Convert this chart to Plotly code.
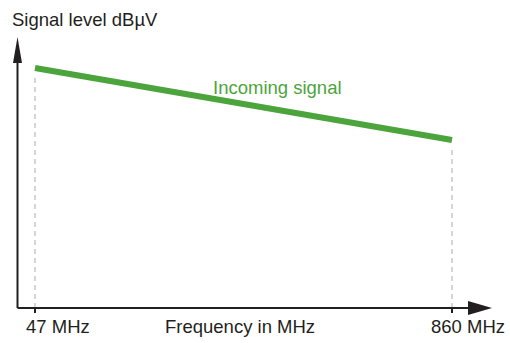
import plotly.graph_objects as go

# ---- data ----
freq_mhz = [47, 860]            # band edges
signal_level = [80, 56]         # relative signal level (dBµV, arbitrary scale)
series_name = "Incoming signal"
x_title = "Frequency in MHz"
y_title = "Signal level dBµV"
tick_labels = ["47 MHz", "860 MHz"]

W, H = 510, 343
GREEN = "#4CA53C"
INK = "#231F20"
GREY = "#C8C8C8"
FONT = "Liberation Sans, Arial, sans-serif"
FS = 18.5

def px(x):
    return x / W

def py(y):
    return 1 - y / H

fig = go.Figure()

# dashed guide lines at band edges
for f, lv in zip(freq_mhz, signal_level):
    fig.add_trace(go.Scatter(x=[f, f], y=[0, lv - 3], mode="lines",
                             line=dict(color=GREY, width=1.5, dash="5px,4px"),
                             hoverinfo="skip", showlegend=False))

# signal line
fig.add_trace(go.Scatter(x=freq_mhz, y=signal_level, mode="lines",
                         line=dict(color=GREEN, width=6), name=series_name,
                         showlegend=False))

shapes = []
# axes lines
shapes.append(dict(type="line", xref="paper", yref="paper",
                   x0=px(17.5), y0=py(308), x1=px(17.5), y1=py(60),
                   line=dict(color=INK, width=2)))
shapes.append(dict(type="line", xref="paper", yref="paper",
                   x0=px(17.5), y0=py(308), x1=px(470), y1=py(308),
                   line=dict(color=INK, width=2)))
# arrow heads
shapes.append(dict(type="path", xref="paper", yref="paper",
                   path=f"M {px(13)},{py(63)} L {px(17.5)},{py(37)} L {px(22)},{py(63)} Z",
                   fillcolor=INK, line=dict(color=INK, width=0)))
shapes.append(dict(type="path", xref="paper", yref="paper",
                   path=f"M {px(468)},{py(301)} L {px(492)},{py(308)} L {px(468)},{py(315)} Z",
                   fillcolor=INK, line=dict(color=INK, width=0)))
# tick marks at band edges
for f in freq_mhz:
    shapes.append(dict(type="line", xref="x", yref="paper",
                       x0=f, x1=f, y0=py(308), y1=py(313),
                       line=dict(color=INK, width=2)))

annotations = [
    dict(text=y_title, x=px(10), y=py(20), xref="paper", yref="paper",
         xanchor="left", yanchor="middle", showarrow=False,
         font=dict(family=FONT, size=FS, color=INK)),
    dict(text=series_name, x=px(211), y=py(87), xref="paper", yref="paper",
         xanchor="left", yanchor="middle", showarrow=False,
         font=dict(family=FONT, size=FS, color=GREEN)),
    dict(text=tick_labels[0], x=px(24), y=py(326), xref="paper", yref="paper",
         xanchor="left", yanchor="middle", showarrow=False,
         font=dict(family=FONT, size=FS, color=INK)),
    dict(text=x_title, x=px(163), y=py(326), xref="paper", yref="paper",
         xanchor="left", yanchor="middle", showarrow=False,
         font=dict(family=FONT, size=FS, color=INK)),
    dict(text=tick_labels[1], x=px(507), y=py(326), xref="paper", yref="paper",
         xanchor="right", yanchor="middle", showarrow=False,
         font=dict(family=FONT, size=FS, color=INK)),
]

# map 47 MHz -> pixel 35 and 860 MHz -> pixel 452; level 0 -> pixel 308 (3 px/unit)
mhz_per_px = (freq_mhz[1] - freq_mhz[0]) / (452 - 35)
x_lo = freq_mhz[0] - 35 * mhz_per_px
x_hi = freq_mhz[0] + (W - 35) * mhz_per_px
y_lo = -(H - 308) / 3
y_hi = 308 / 3

fig.update_layout(
    width=W, height=H,
    margin=dict(l=0, r=0, t=0, b=0),
    paper_bgcolor="white", plot_bgcolor="white",
    xaxis=dict(range=[x_lo, x_hi], visible=False, fixedrange=True),
    yaxis=dict(range=[y_lo, y_hi], visible=False, fixedrange=True),
    shapes=shapes, annotations=annotations,
)

fig.write_html("out.html",
               config={"displayModeBar": False},
               post_script="document.body.style.margin='0';document.body.style.overflow='hidden';")
